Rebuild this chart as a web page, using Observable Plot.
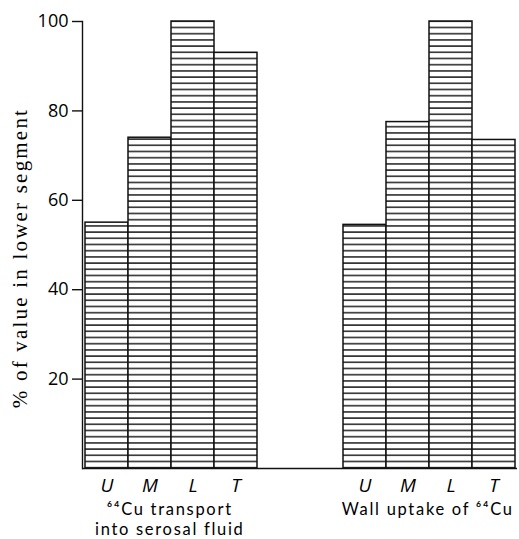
<!DOCTYPE html>
<html>
<head>
<meta charset="utf-8">
<script src="https://cdn.jsdelivr.net/npm/d3@7"></script>
<script src="https://cdn.jsdelivr.net/npm/@observablehq/plot@0.6"></script>
<style>
  html, body { margin: 0; padding: 0; background: #fff; }
  .ylab text { letter-spacing: 2.2px; font-family: "Liberation Serif", "DejaVu Serif", serif !important; }
  .grp text { letter-spacing: 1.7px; font-family: Lato, "Open Sans", sans-serif !important; }
</style>
</head>
<body>
<div id="chart"></div>
<script>
const segments = ["U", "M", "L", "T"];
const transport = [55, 74, 100, 93];
const wallUptake = [54.5, 77.5, 100, 73.5];
const groupLabels = ["⁶⁴Cu transport\ninto serosal fluid", "Wall uptake of ⁶⁴Cu"];
const yTicks = [20, 40, 60, 80, 100];
const yLabel = "% of value in lower segment";

const W = 519, H = 539, mL = 82, mR = 2, mT = 21, mB = 71;
const keysA = segments.map(s => "a" + s);
const keysB = segments.map(s => "b" + s);
const xDomain = [...keysA, "gap1", "gap2", ...keysB];
const step = (W - mL - mR) / xDomain.length;

const rows = [
  ...segments.map((s, i) => ({key: keysA[i], value: transport[i]})),
  ...segments.map((s, i) => ({key: keysB[i], value: wallUptake[i]}))
];
const groups = [
  {key: keysA[1], text: groupLabels[0]},
  {key: keysB[1], text: groupLabels[1]}
];

const svg = Plot.plot({
  width: W, height: H,
  marginLeft: mL, marginRight: mR, marginTop: mT, marginBottom: mB,
  style: {background: "#fff", color: "#000", fontFamily: "'Open Sans', sans-serif", fontSize: "18px"},
  x: {domain: xDomain, padding: 0, axis: null},
  y: {domain: [0, 100], axis: null},
  marks: [
    Plot.barY(rows, {x: "key", y: "value", fill: "url(#hatch)", stroke: "#111", strokeWidth: 1.5}),
    Plot.ruleY([0], {stroke: "#111", strokeWidth: 1.4}),
    Plot.frame({anchor: "left", stroke: "#111", strokeWidth: 1.4}),
    Plot.axisY({ticks: yTicks, tickSize: 10, tickPadding: 4, label: null, fontSize: 18, stroke: "#111", strokeWidth: 1.4}),
    Plot.axisX({ticks: [...keysA, ...keysB], tickFormat: d => d.slice(1), tickSize: 0, tickPadding: 10,
      label: null, fontSize: 19, fontStyle: "italic"}),
    Plot.text(groups, {x: "key", text: "text", frameAnchor: "bottom", dx: step / 2 - 2, dy: 32,
      lineAnchor: "top", lineHeight: 1.21, fontSize: 16.5, textAnchor: "middle", className: "grp"}),
    Plot.text([yLabel], {frameAnchor: "left", rotate: -90, dx: -62, dy: 13, fontSize: 21,
      textAnchor: "middle", className: "ylab"})
  ]
});

const defs = d3.select(svg).insert("defs", ":first-child");
const pat = defs.append("pattern").attr("id", "hatch").attr("patternUnits", "userSpaceOnUse")
  .attr("width", 8).attr("height", 6.2);
pat.append("rect").attr("width", 8).attr("height", 6.2).attr("fill", "#fff");
pat.append("rect").attr("y", 2).attr("width", 8).attr("height", 1.4).attr("fill", "#111");

document.getElementById("chart").appendChild(svg);
</script>
</body>
</html>
